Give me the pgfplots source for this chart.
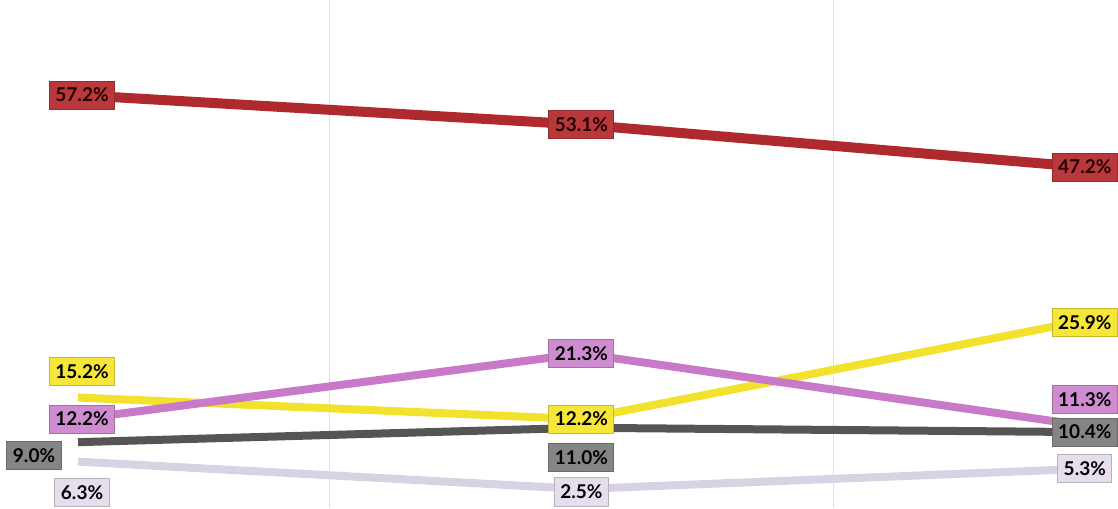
\documentclass[border=0pt]{standalone}
\usepackage{pgfplots}
\pgfplotsset{compat=1.18}
\usepackage{fontspec}
\setmainfont{Lato}
\definecolor{cred}{HTML}{AE2A2E}
\definecolor{credbox}{HTML}{B8383C}
\definecolor{cyel}{HTML}{F2E22E}
\definecolor{cyelbox}{HTML}{F7E63A}
\definecolor{cpur}{HTML}{C879C8}
\definecolor{cpurbox}{HTML}{D08CD0}
\definecolor{cgray}{HTML}{555555}
\definecolor{cgraybox}{HTML}{858585}
\definecolor{clight}{HTML}{D9D2E2}
\definecolor{clightbox}{HTML}{E6DEEC}
\pgfplotsset{
  lab/.style 2 args={
    point meta=y,
    nodes near coords={\pgfmathprintnumber[fixed,fixed zerofill,precision=1,assume math mode=true]{\pgfplotspointmeta}\%},
    visualization depends on={\thisrow{dx} \as \dx},
    visualization depends on={\thisrow{dy} \as \dy},
    every node near coord/.append style={font=\bfseries\fontsize{19}{19}\selectfont, text=#2, fill=#1, draw=#1!80!black, line width=1pt, inner xsep=6pt, inner ysep=7pt, anchor=center, xshift=\dx pt, yshift=\dy pt},
  }
}
\begin{document}
\begin{tikzpicture}
\begin{axis}[
  scale only axis, width=1118pt, height=508pt,
  xmin=-0.155, xmax=2.066, ymin=-0.14, ymax=70.4,
  axis line style={draw=none},
  xtick={0.5,1.5}, xticklabels={}, ytick=\empty,
  major tick length=0pt,
  xmajorgrids, grid style={black!12, line width=0.8pt},
  clip=false,
]
\coordinate (ll) at (rel axis cs:0,0);
\coordinate (ur) at (rel axis cs:1,1);
\addplot[clight, line width=8pt, mark=none, lab={clightbox}{black}] table[row sep=\\]{
x y dx dy \\
0 6.3 4 -31 \\
1 2.5 0 -3 \\
2 5.3 0 0 \\
};
\addplot[cgray, line width=8pt, mark=none, lab={cgraybox}{black}] table[row sep=\\]{
x y dx dy \\
0 9.0 -44 -13 \\
1 11.0 0 -30 \\
2 10.4 0 0 \\
};
\addplot[cyel, line width=8pt, mark=none, lab={cyelbox}{black}] table[row sep=\\]{
x y dx dy \\
0 15.2 4 26 \\
1 12.2 0 0 \\
2 25.9 0 -2 \\
};
\addplot[cpur, line width=8pt, mark=none, lab={cpurbox}{black}] table[row sep=\\]{
x y dx dy \\
0 12.2 4 0 \\
1 21.3 0 0 \\
2 11.3 0 26 \\
};
\addplot[cred, line width=10pt, mark=none, lab={credbox}{black!85!red}] table[row sep=\\]{
x y dx dy \\
0 57.2 4 0 \\
1 53.1 0 0 \\
2 47.2 0 0 \\
};
\end{axis}
\pgfresetboundingbox
\path (ll) rectangle (ur);
\end{tikzpicture}
\end{document}
